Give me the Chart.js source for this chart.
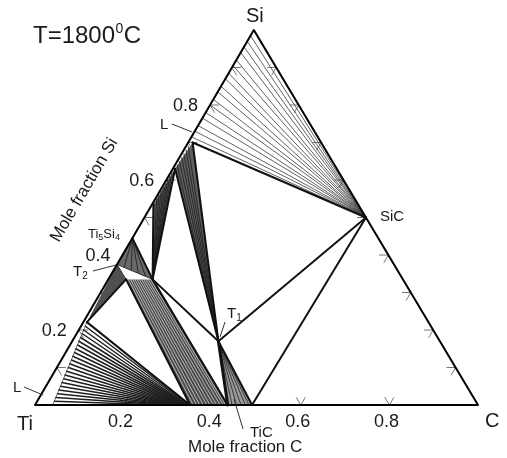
<!DOCTYPE html>
<html><head><meta charset="utf-8">
<script src="https://cdn.jsdelivr.net/npm/chart.js@4.4.1/dist/chart.umd.min.js"></script>
<style>html,body{margin:0;padding:0;background:#fff;overflow:hidden}canvas{display:block}</style>
</head><body>
<canvas id="c" width="507" height="458"></canvas>
<script>
// ---- composition nodes [xC, xSi] ----
const vTi = [0, 0], vC = [1, 0], vSi = [0, 1];
const pSiC = [0.5, 0.5];
const pT1 = [0.33, 0.17];
const pLSi = [0.01, 0.70];
const pL2 = [0.005, 0.63];
const pL3 = [0.003, 0.535];
const pTi5Si4 = [0, 0.445];
const pT2a = [0, 0.375];
const pT2b = [0.10, 0.335];
const pT2c = [0.04, 0.335];
const pLTi = [0.008, 0.221];
const pLTi0 = [0.04, 0];
const pTiC1 = [0.35, 0];
const pTiC2 = [0.435, 0];
const pTiC3 = [0.49, 0];

// Si-corner tie lines: liquid xSi on Ti-Si edge -> SiC
const siFanLiqSi = [0.985, 0.97, 0.955, 0.94, 0.92, 0.905, 0.885, 0.87, 0.85, 0.835, 0.815, 0.80, 0.78, 0.765, 0.745, 0.73, 0.715];
// L + T1 tie lines (liquid xSi)
const lT1LiqSi = [0.69, 0.68, 0.67, 0.66, 0.65, 0.64];
// L + T2 tie lines (liquid xSi)
const lT2LiqSi = [0.62, 0.61, 0.60, 0.59, 0.58, 0.57, 0.56, 0.55];
// Ti5Si4 + T2 tie lines: T2 end (xC, xSi)
const t54T2C = [0.02, 0.04, 0.06, 0.08];
const t54T2Si = [0.367, 0.359, 0.351, 0.343];
// T2 + TiC tie lines
const t2TicT2C = [0.045, 0.05, 0.055, 0.06, 0.065, 0.07, 0.075, 0.08, 0.085, 0.09, 0.095];
const t2TicTiCC = [0.357, 0.365, 0.372, 0.38, 0.388, 0.395, 0.403, 0.41, 0.418, 0.425, 0.43];
// T1 + TiC tie lines: TiC xC
const t1TicC = [0.445, 0.455, 0.465, 0.475, 0.483];
// Ti-corner L + TiC tie lines
const tiFanLiqSi = [0.21, 0.20, 0.19, 0.18, 0.17, 0.16, 0.15, 0.14, 0.13, 0.12, 0.11, 0.10, 0.09, 0.08, 0.07, 0.06, 0.05, 0.04, 0.03, 0.02, 0.01];
const tiFanLiqC = [0.010, 0.011, 0.013, 0.014, 0.015, 0.017, 0.018, 0.020, 0.021, 0.023, 0.024, 0.026, 0.027, 0.028, 0.030, 0.031, 0.033, 0.034, 0.036, 0.037, 0.039];
const tiFanTiCC = [0.350, 0.348, 0.345, 0.343, 0.340, 0.338, 0.335, 0.333, 0.330, 0.328, 0.325, 0.322, 0.319, 0.316, 0.313, 0.310, 0.306, 0.302, 0.298, 0.294, 0.290];

// axis ticks
const bottomTicks = [0.2, 0.4, 0.6, 0.8];
const sideTicks = [0.1, 0.2, 0.3, 0.4, 0.5, 0.6, 0.7, 0.8, 0.9];
const bottomTickLabels = ['0.2', '0.4', '0.6', '0.8'];
const leftTickLabels = ['0.2', '0.4', '0.6', '0.8'];

// ---- geometry: composition -> chart coordinates ----
const SKEW = 0.494;
function P(p) { return { x: p[0] + SKEW * p[1], y: p[1] }; }

const ds = [];
function addLine(pts, color, width, order) {
  ds.push({ data: pts.map(P), showLine: true, borderColor: color, borderWidth: width,
    pointRadius: 0, pointHoverRadius: 0, fill: false, order: order, clip: false, tension: 0,
    borderCapStyle: 'round', borderJoinStyle: 'round' });
}
function addPoly(pts, color, order) {
  ds.push({ data: pts.concat([pts[0]]).map(P), showLine: true, borderWidth: 0,
    borderColor: 'rgba(0,0,0,0)', backgroundColor: color, fill: 'shape',
    pointRadius: 0, pointHoverRadius: 0, order: order, clip: false, tension: 0 });
}

// ticks
const TK = 0.02;
bottomTicks.forEach(c => { addLine([[c, TK], [c, 0], [c - TK, TK]], '#777', 1, 9); });
sideTicks.forEach(s => {
  addLine([[TK, s], [0, s], [TK, s - TK]], '#777', 1, 9);
  const c = 1 - s;
  addLine([[c - TK, s], [c, s], [c, s - TK]], '#777', 1, 9);
});

// two-phase shaded regions
addPoly([pLSi, pL2, pT1], '#5e5e5e', 8);
addPoly([pL2, pL3, pT2b], '#555', 8);
addPoly([pTi5Si4, pT2a, pT2b], '#6a6a6a', 8);
addPoly([pLTi, pT2a, pT2c], '#505050', 8);
addPoly([pT2c, pT2b, pTiC2, pTiC1], '#4a4a4a', 8);
addPoly([pT1, pTiC2, pTiC3], '#9a9a9a', 8);
addPoly([vSi, pSiC, [0.012, 0.985]], '#c8c8c8', 8);

// tie lines
siFanLiqSi.forEach(s => addLine([[0, s], pSiC], '#3a3a3a', 0.8, 5));
lT1LiqSi.forEach(s => addLine([[0.005, s], pT1], '#1a1a1a', 0.8, 5));
lT2LiqSi.forEach(s => addLine([[0.003, s], pT2b], '#1a1a1a', 0.8, 5));
t54T2C.forEach((c, i) => addLine([pTi5Si4, [c, t54T2Si[i]]], '#1a1a1a', 0.8, 5));
t2TicT2C.forEach((c, i) => addLine([[c, 0.335], [t2TicTiCC[i], 0]], '#e6e6e6', 0.7, 5));
t1TicC.forEach(c => addLine([pT1, [c, 0]], '#222', 0.8, 5));
tiFanLiqSi.forEach((s, i) => addLine([[tiFanLiqC[i], s], [tiFanTiCC[i], 0]], '#1e1e1e', 1.5, 5));

// phase boundaries (bold)
const B = '#111';
[[pLSi, pSiC], [pLSi, pT1], [pL2, pT1], [pSiC, pT1], [pSiC, pTiC3], [pT1, pTiC3],
 [pL2, pT2b], [pL3, pT2b], [pTi5Si4, pT2b], [pT2b, pT1], [pT2b, pTiC2],
 [pT2c, pTiC1], [pLTi, pT2c], [pLTi, pTiC1]].forEach(sg => addLine(sg, B, 2, 2));
addLine([pT1, pTiC2], B, 3, 2);
addLine([pT2a, pT2b], '#333', 1, 2);
addLine([pT2a, pT2c], '#333', 1, 2);
addLine([pLTi0, pLTi], '#444', 0.8, 2);

// triangle frame
addLine([vTi, vC, vSi, vTi], '#000', 2, 1);

// ---- text plugin ----
const FONT = "'Liberation Sans', Arial, sans-serif";
const textPlugin = {
  id: 'texts',
  afterDraw(chart) {
    const ctx = chart.ctx, xs = chart.scales.x, ys = chart.scales.y;
    const px = p => ({ x: xs.getPixelForValue(P(p).x), y: ys.getPixelForValue(P(p).y) });
    ctx.save();
    ctx.fillStyle = '#1a1a1a';
    ctx.strokeStyle = '#333';
    ctx.lineWidth = 1;
    const txt = (t, x, y, size, align) => {
      ctx.font = size + 'px ' + FONT; ctx.textAlign = align || 'left'; ctx.textBaseline = 'alphabetic';
      ctx.fillText(t, x, y); return ctx.measureText(t).width;
    };
    const leader = (x1, y1, x2, y2) => { ctx.beginPath(); ctx.moveTo(x1, y1); ctx.lineTo(x2, y2); ctx.stroke(); };

    // title
    let x = 33;
    x += txt('T=1800', x, 43, 24);
    x += txt('0', x + 0.5, 33, 14) + 1;
    txt('C', x, 43, 24);

    // vertices
    const si = px(vSi), ti = px(vTi), cc = px(vC);
    txt('Si', si.x + 1, si.y - 8, 20, 'center');
    txt('Ti', ti.x - 2, 430, 20, 'right');
    txt('C', cc.x + 7, 427, 20, 'left');

    // tick labels
    bottomTicks.forEach((c, i) => { const p = px([c, 0]); txt(bottomTickLabels[i], p.x - 3, 427, 18, 'center'); });
    [0.2, 0.4, 0.6, 0.8].forEach((s, i) => { const p = px([0, s]); txt(leftTickLabels[i], p.x - 12, p.y + 6, 18, 'right'); });

    // axis titles
    txt('Mole fraction C', 188, 452, 17, 'left');
    ctx.save();
    ctx.translate(84, 190);
    ctx.rotate(-59.7 * Math.PI / 180);
    txt('Mole fraction Si', 0, 5, 17, 'center');
    ctx.restore();

    // phase labels
    txt('SiC', 380, 221, 15);
    txt('TiC', 250, 437, 15);
    leader(234, 399, 243, 429);
    let w = txt('T', 227, 318, 15);
    txt('1', 227 + w, 321, 10);
    leader(225, 322, 220, 337);
    txt('L', 160, 129, 15);
    leader(172, 124, 192, 132);
    x = 88;
    x += txt('Ti', x, 238, 13);
    x += txt('5', x, 240, 9);
    x += txt('Si', x, 238, 13);
    txt('4', x, 240, 9);
    w = txt('T', 73, 276, 15);
    txt('2', 73 + w, 279, 10);
    leader(93, 271, 116, 265);
    txt('L', 13, 392, 15);
    leader(24, 387, 43, 395);
    ctx.restore();
  }
};

new Chart(document.getElementById('c'), {
  type: 'scatter',
  data: { datasets: ds },
  options: {
    responsive: false,
    animation: false,
    events: [],
    layout: { padding: { left: 35, right: 29, top: 30, bottom: 53 } },
    scales: {
      x: { type: 'linear', min: 0, max: 1, display: false },
      y: { type: 'linear', min: 0, max: 1, display: false }
    },
    plugins: { legend: { display: false }, tooltip: { enabled: false }, title: { display: false } }
  },
  plugins: [textPlugin]
});
</script>
</body></html>
